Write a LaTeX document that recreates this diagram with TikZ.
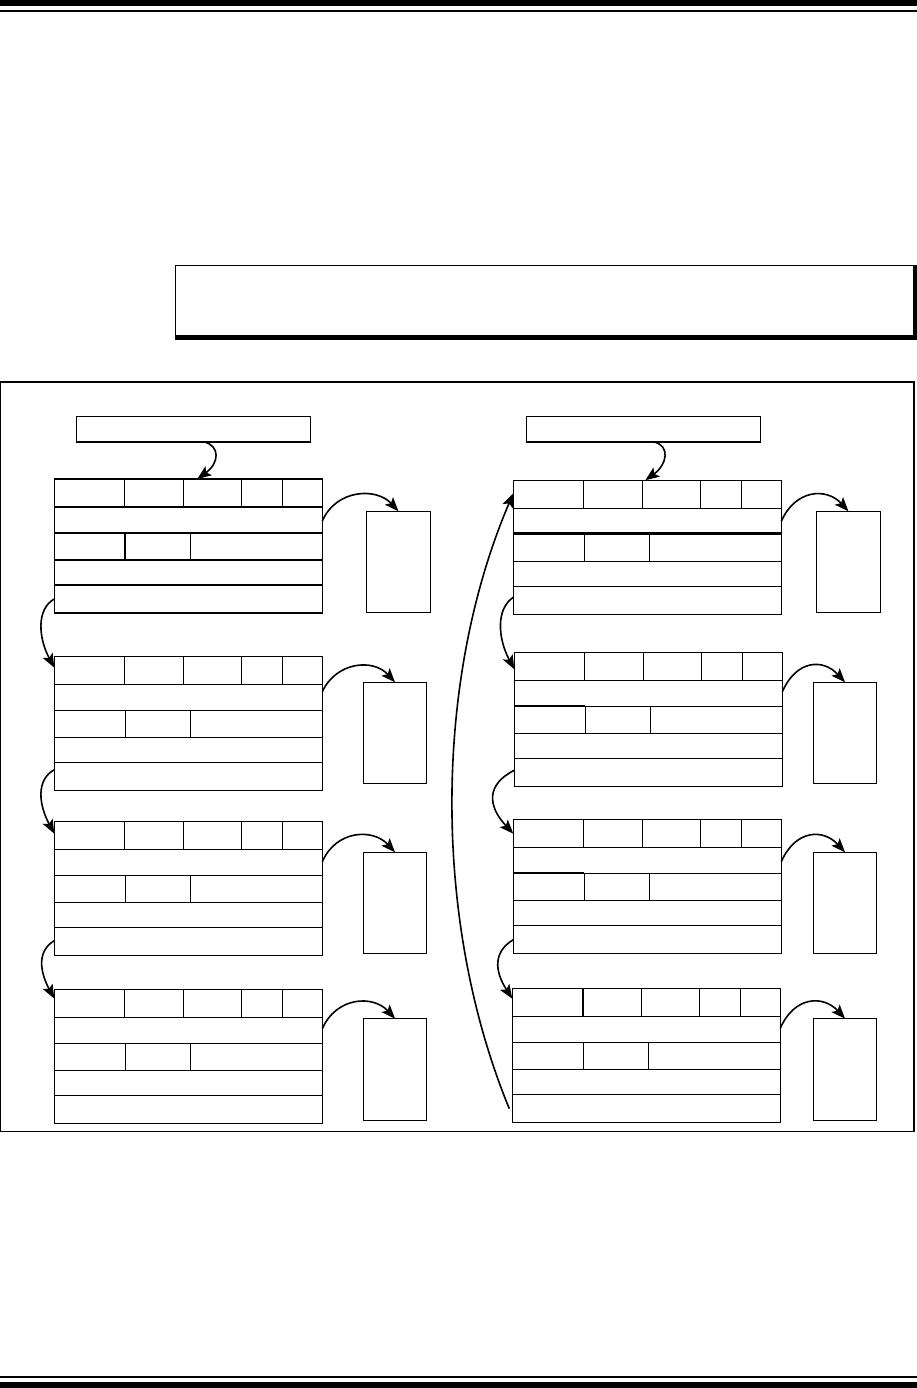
\documentclass[tikz,border=0pt]{standalone}
\usetikzlibrary{arrows.meta}
\tikzset{
  blk/.style={draw, anchor=north west, minimum width=268pt, minimum height=134pt, inner sep=0pt, outer sep=0pt, line width=1.2pt},
  sbox/.style={draw, anchor=north west, minimum width=63.5pt, minimum height=101.5pt, inner sep=0pt, outer sep=0pt, line width=1.2pt},
  hbox/.style={draw, anchor=north west, minimum width=234pt, minimum height=25.7pt, inner sep=0pt, outer sep=0pt, line width=1.2pt},
  cell/.style={line width=1.2pt},
  thk/.style={line width=2.2pt},
  arr/.style={line width=1.6pt, -{Stealth[length=14pt,width=11pt,inset=3pt]}},
}
\newcommand{\descblock}[3]{%
  \node[blk] (#1) at (#2,#3) {};
  \foreach \r in {28,54,81,106}
    \draw[cell] ([yshift=-\r pt]#1.north west) -- ([yshift=-\r pt]#1.north east);
  \foreach \d in {70.5,129,187,228.5}
    \draw[cell] ([xshift=\d pt]#1.north west) -- ++(0,28);
  \foreach \d in {71,136}
    \draw[cell] ([xshift=\d pt,yshift=-54pt]#1.north west) -- ++(0,27);
}
\begin{document}
\begin{tikzpicture}[x=1pt,y=-1pt]
\useasboundingbox (0,0) rectangle (917,1388);
% page rules
\fill (0,0) rectangle (917,6);
\fill (0,10) rectangle (917,12);
\fill (0,1375.7) rectangle (917,1377.7);
\fill (0,1381.7) rectangle (917,1388);
% note box
\node[draw, line width=1pt, anchor=north west, minimum width=738pt, minimum height=70pt, inner sep=0pt, outer sep=0pt] (note) at (175,265) {};
\fill (note.south west) rectangle ([xshift=5pt,yshift=-5pt]note.south east);
\fill (note.north east) rectangle ([xshift=5pt,yshift=-5pt]note.south east);
% frame
\node[draw, line width=1.2pt, anchor=north west, minimum width=913.5pt, minimum height=749.5pt, inner sep=0pt, outer sep=0pt] (frame) at (0.5,382) {};
% head boxes
\node[hbox] (Lh) at (76.3,416.3) {};
\node[hbox] (Rh) at (526.3,416.3) {};
% descriptor blocks
\descblock{L1}{54.3}{479}
\descblock{L2}{54.3}{656.7}
\descblock{L3}{54.3}{821.7}
\descblock{L4}{54.3}{989.7}
\descblock{R1}{513.3}{480.3}
\descblock{R2}{514.3}{652.3}
\descblock{R3}{513.3}{819.7}
\descblock{R4}{512.3}{988.7}
% heavier segments
\draw[thk] ([xshift=71pt,yshift=-54pt]L1.north west) -- ++(0,27);
\draw[thk] ([yshift=-53pt]R1.north west) -- ([yshift=-53pt]R1.north east);
\draw[thk] ([yshift=-53.5pt]R2.north west) -- ++(70.5,0);
\draw[thk] ([yshift=-53.5pt]R3.north west) -- ++(71,0);
\draw[thk] ([xshift=70.5pt]R4.north west) -- ++(0,28);
% side boxes
\node[sbox] (L1b) at (366.7,511.3) {};
\node[sbox] (L2b) at (363.3,682.3) {};
\node[sbox] (L3b) at (363.3,852.3) {};
\node[sbox] (L4b) at (363.3,1018.7) {};
\node[sbox] (R1b) at (816.7,511.3) {};
\node[sbox] (R2b) at (813.3,682.3) {};
\node[sbox] (R3b) at (813.3,852.3) {};
\node[sbox] (R4b) at (813.3,1018.7) {};
% head arrows
\draw[arr] ([xshift=11pt]Lh.south) .. controls +(16,4) and +(22,-16) .. ([xshift=9pt]L1.north);
\draw[arr] ([xshift=11pt]Rh.south) .. controls +(16,4) and +(22,-16) .. ([xshift=-2pt]R1.north);
% side arrows
\draw[arr] ([yshift=-42pt]L1.north east) .. controls +(14,-32) and +(-22,-24) .. (L1b.north);
\draw[arr] ([yshift=-35pt]L2.north east) .. controls +(14,-30) and +(-22,-24) .. (L2b.north);
\draw[arr] ([yshift=-40pt]L3.north east) .. controls +(14,-32) and +(-22,-24) .. (L3b.north);
\draw[arr] ([yshift=-39pt]L4.north east) .. controls +(14,-32) and +(-22,-24) .. (L4b.north);
\draw[arr] ([yshift=-41pt]R1.north east) .. controls +(14,-32) and +(-22,-24) .. (R1b.north);
\draw[arr] ([yshift=-39.5pt]R2.north east) .. controls +(14,-32) and +(-22,-24) .. (R2b.north);
\draw[arr] ([yshift=-42pt]R3.north east) .. controls +(14,-32) and +(-22,-24) .. (R3b.north);
\draw[arr] ([yshift=-39.5pt]R4.north east) .. controls +(14,-32) and +(-22,-24) .. (R4b.north);
% chain arrows, left column
\draw[arr] ([yshift=14pt]L1.south west) .. controls +(-18,10) and +(-16,-30) .. ([yshift=-11pt]L2.north west);
\draw[arr] ([yshift=21pt]L2.south west) .. controls +(-18,10) and +(-16,-30) .. ([yshift=-12pt]L3.north west);
\draw[arr] ([yshift=15pt]L3.south west) .. controls +(-17,10) and +(-15,-28) .. ([yshift=-9pt]L4.north west);
% chain arrows, right column
\draw[arr] ([yshift=17pt]R1.south west) .. controls +(-18,12) and +(-16,-30) .. ([yshift=-17pt]R2.north west);
\draw[arr] ([yshift=16pt]R2.south west) .. controls +(-28,14) and +(-26,-28) .. ([yshift=-14pt]R3.north west);
\draw[arr] ([yshift=14pt]R3.south west) .. controls +(-20,12) and +(-18,-28) .. ([yshift=-10pt]R4.north west);
% long return arc
\draw[arr] ([xshift=-3pt,yshift=14pt]R4.south west) .. controls +(-77,-187) and +(-80,187) .. ([yshift=-13pt]R1.north west);
\end{tikzpicture}
\end{document}
